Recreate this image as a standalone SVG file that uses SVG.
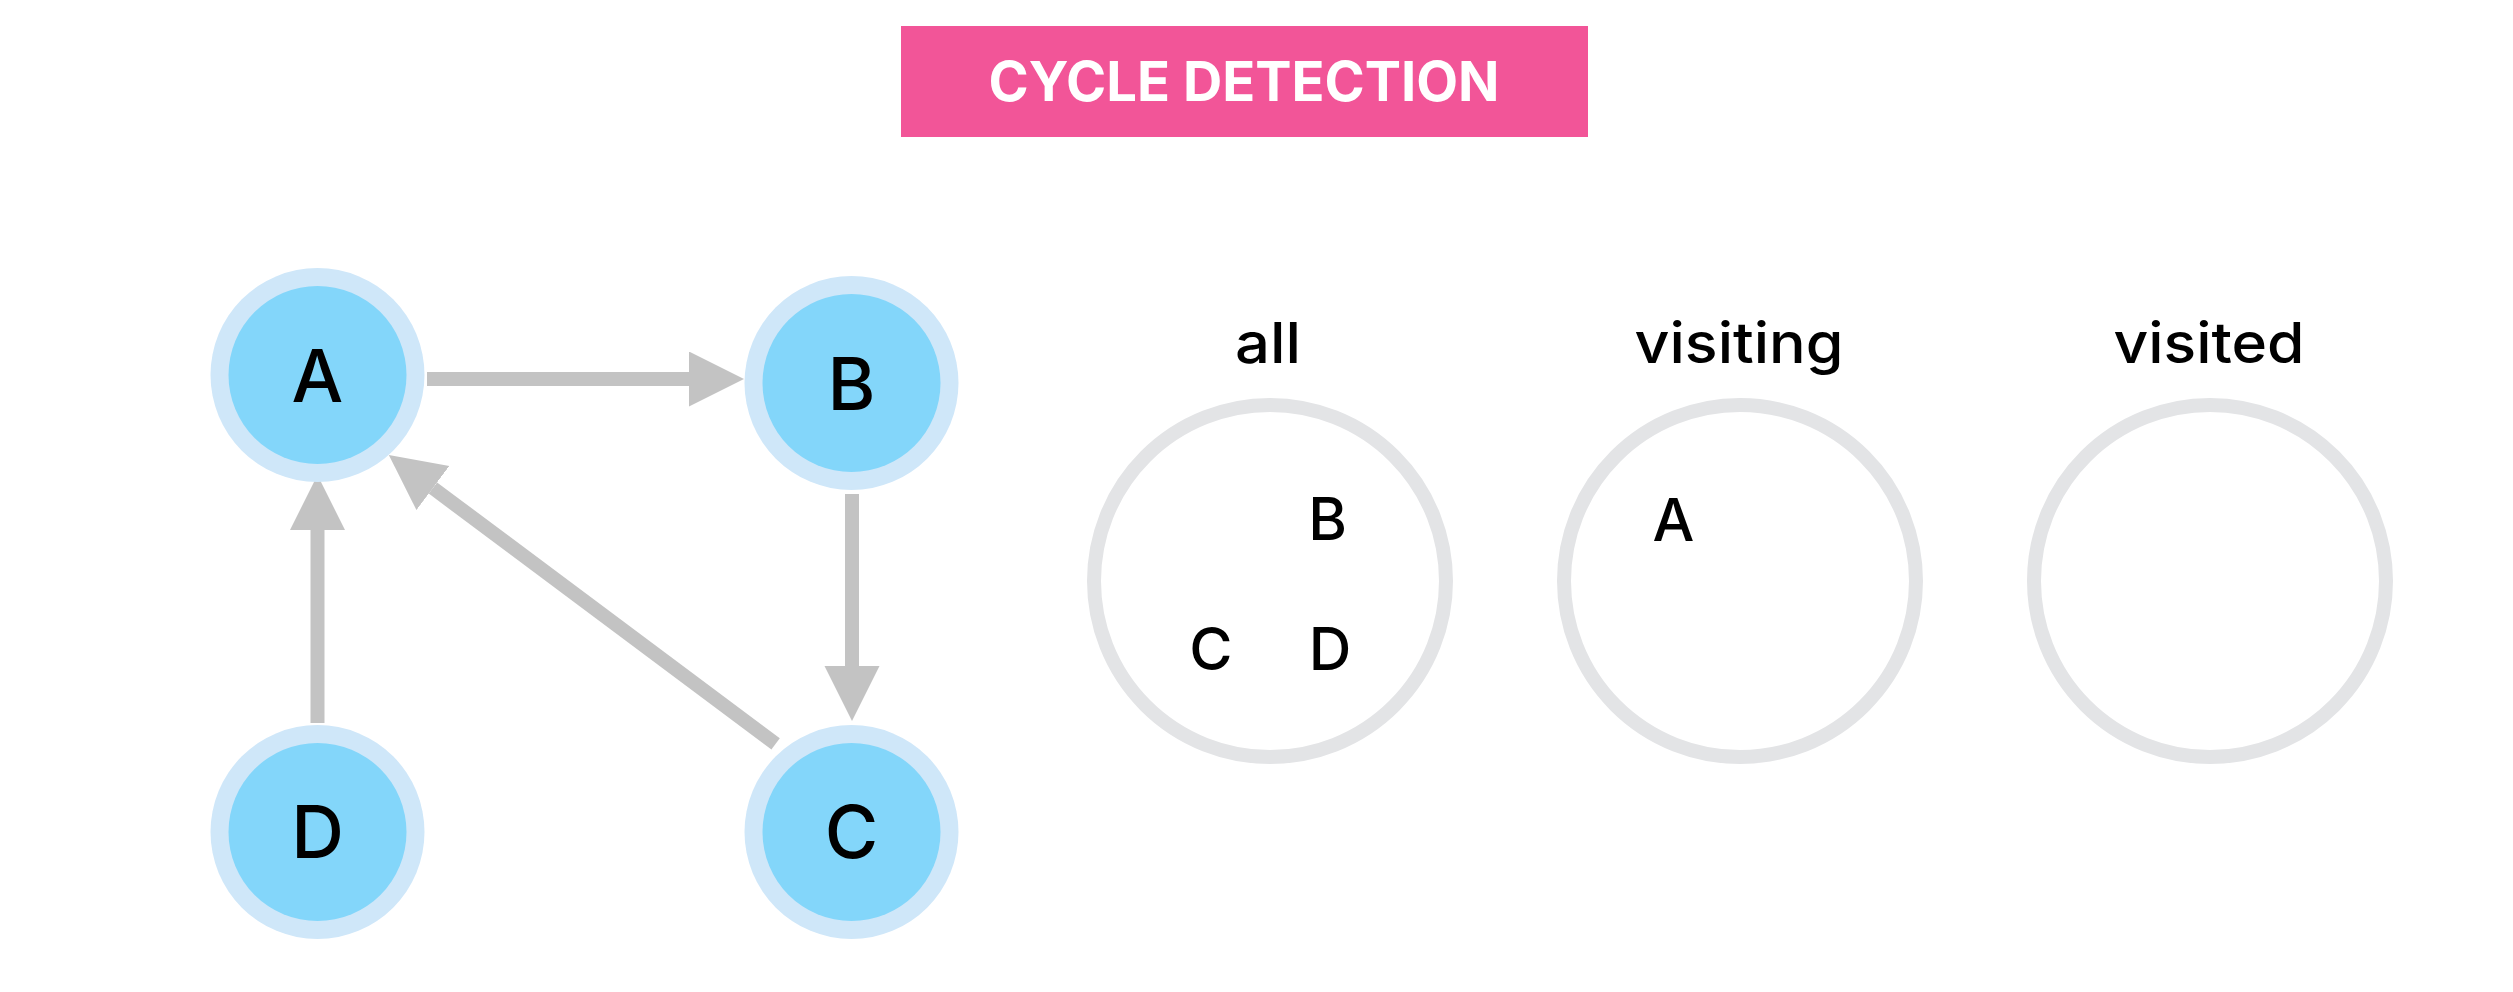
<svg xmlns="http://www.w3.org/2000/svg" width="2513" height="992" viewBox="0 0 2513 992">
  <defs>
    <style>
      .ring { fill: #CFE7F9; }
      .core { fill: #83D6FA; }
      .lbl { font-family: Inter, "Liberation Sans", sans-serif; font-size: 73px; font-weight: 500; fill: #000; text-anchor: middle; }
      .edge { stroke: #C3C3C3; stroke-width: 14; fill: none; }
      .set { fill: none; stroke: #E3E4E6; stroke-width: 14; }
      .head { font-family: Inter, "Liberation Sans", sans-serif; font-size: 56px; font-weight: 500; fill: #000; text-anchor: middle; }
      .item { font-family: Inter, "Liberation Sans", sans-serif; font-size: 59px; font-weight: 500; fill: #000; text-anchor: middle; }
      .title { font-family: Inter, "Liberation Sans", sans-serif; font-size: 55px; font-weight: bold; fill: #FFFFFF; text-anchor: middle; }
    </style>
    <marker id="arrow" markerUnits="userSpaceOnUse" markerWidth="56" markerHeight="56" refX="0" refY="27.5" orient="auto">
      <path d="M0,0 L55,27.5 L0,55 Z" fill="#C3C3C3"/>
    </marker>
  </defs>

  <rect width="2513" height="992" fill="#FFFFFF"/>

  <g id="title">
    <rect x="901" y="26" width="687" height="111" fill="#F25598"/>
    <text class="title" x="1244" y="101" textLength="511" lengthAdjust="spacingAndGlyphs">CYCLE DETECTION</text>
  </g>

  <g id="connectors">
    <line class="edge" x1="427" y1="379" x2="689" y2="379" marker-end="url(#arrow)"/>
    <line class="edge" x1="852" y1="494" x2="852" y2="666" marker-end="url(#arrow)"/>
    <line class="edge" x1="317.5" y1="723" x2="317.5" y2="530" marker-end="url(#arrow)"/>
    <line class="edge" x1="775.6" y1="743.8" x2="432.9" y2="488" marker-end="url(#arrow)"/>
  </g>

  <g id="node-A">
    <circle class="ring" cx="317.5" cy="375" r="107"/>
    <circle class="core" cx="317.5" cy="375" r="89"/>
    <text class="lbl" x="317.5" y="402">A</text>
  </g>
  <g id="node-B">
    <circle class="ring" cx="851.5" cy="383" r="107"/>
    <circle class="core" cx="851.5" cy="383" r="89"/>
    <text class="lbl" x="851.5" y="410">B</text>
  </g>
  <g id="node-D">
    <circle class="ring" cx="317.5" cy="832" r="107"/>
    <circle class="core" cx="317.5" cy="832" r="89"/>
    <text class="lbl" x="317.5" y="858">D</text>
  </g>
  <g id="node-C">
    <circle class="ring" cx="851.5" cy="832" r="107"/>
    <circle class="core" cx="851.5" cy="832" r="89"/>
    <text class="lbl" x="851.5" y="858">C</text>
  </g>

  <g id="set-all">
    <text class="head" x="1268" y="363" textLength="66" lengthAdjust="spacingAndGlyphs">all</text>
    <circle class="set" cx="1270" cy="581" r="176"/>
    <text class="item" x="1327.5" y="539.5">B</text>
    <text class="item" x="1211" y="670">C</text>
    <text class="item" x="1330" y="670">D</text>
  </g>
  <g id="set-visiting">
    <text class="head" x="1739" y="363" textLength="209" lengthAdjust="spacingAndGlyphs">visiting</text>
    <circle class="set" cx="1740" cy="581" r="176"/>
    <text class="item" x="1673.5" y="540.5">A</text>
  </g>
  <g id="set-visited">
    <text class="head" x="2209" y="363" textLength="191" lengthAdjust="spacingAndGlyphs">visited</text>
    <circle class="set" cx="2210" cy="581" r="176"/>
  </g>
</svg>
